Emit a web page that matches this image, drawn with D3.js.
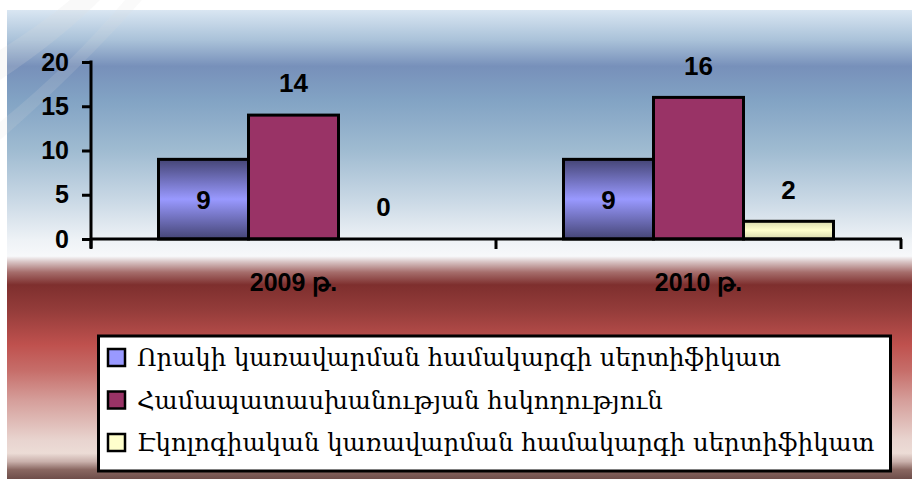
<!DOCTYPE html>
<html>
<head>
<meta charset="utf-8">
<script src="https://cdn.jsdelivr.net/npm/d3@7"></script>
<style>
  body { margin: 0; background: #fff; }
  svg { display: block; }
</style>
</head>
<body>
<svg id="chart"></svg>
<script>
// data
const categories = ["2009 թ.", "2010 թ."];
const seriesNames = [
  "Որակի կառավարման համակարգի սերտիֆիկատ",
  "Համապատասխանության հսկողություն",
  "Էկոլոգիական կառավարման համակարգի սերտիֆիկատ"
];
const values2009 = [9, 14, 0];
const values2010 = [9, 16, 2];
const yTicks = [0, 5, 10, 15, 20];

const seriesColors = ["#9999ff", "#993366", "#ffffcc"];
const gradIds = ["gBlue", null, "gYellow"];

const width = 912, height = 479;
const svg = d3.select("#chart").attr("width", width).attr("height", height);
const defs = svg.append("defs");

// background gradient (blue top, red bottom)
let bgStops = [
  [0, "#d9e6f2"], [0.064, "#aac2d9"], [0.12, "#7790ba"], [0.192, "#82a3c4"],
  [0.299, "#9fbbd1"], [0.405, "#c9d8e5"], [0.49, "#eef2f6"], [0.525, "#f7f8fa"],
  [0.537, "#d8c4c4"], [0.559, "#a66e6c"], [0.586, "#7e2f2e"], [0.64, "#943c3a"],
  [0.714, "#bf514e"], [0.768, "#c66d69"], [0.832, "#d59e9a"], [0.917, "#e8d4cf"],
  [0.945, "#ecdcd6"], [0.963, "#c9b0ab"], [0.98, "#8a6862"], [1, "#6e4e4a"]
];
let bg = defs.append("linearGradient").attr("id", "bg")
  .attr("x1", 0).attr("y1", 0).attr("x2", 0).attr("y2", 1);
bgStops.forEach(s => bg.append("stop").attr("offset", s[0]).attr("stop-color", s[1]));

let gb = defs.append("linearGradient").attr("id", "gBlue")
  .attr("x1", 0).attr("y1", 0).attr("x2", 0).attr("y2", 1);
[[0, "#454575"], [0.5, "#9999ff"], [1, "#454575"]].forEach(s =>
  gb.append("stop").attr("offset", s[0]).attr("stop-color", s[1]));

let gy = defs.append("linearGradient").attr("id", "gYellow")
  .attr("x1", 0).attr("y1", 0).attr("x2", 0).attr("y2", 1);
[[0, "#d8d8ac"], [0.5, "#ffffcc"], [1, "#d8d8ac"]].forEach(s =>
  gy.append("stop").attr("offset", s[0]).attr("stop-color", s[1]));

svg.append("rect").attr("x", 7).attr("y", 10)
  .attr("width", width - 7).attr("height", height - 10)
  .attr("fill", "url(#bg)");

// faint swooshes at top-left
svg.append("path")
  .attr("d", "M70,0 L100,0 Q60,40 0,80 L0,50 Q40,25 70,0 Z")
  .attr("fill", "#dcdcdc").attr("opacity", 0.18);
svg.append("path")
  .attr("d", "M125,0 L142,0 Q80,70 0,140 L0,122 Q70,65 125,0 Z")
  .attr("fill", "#dcdcdc").attr("opacity", 0.15);

// scales
const x0 = d3.scaleBand().domain(categories).range([91, 901]).padding(0);
const bw = x0.bandwidth();
const x1 = d3.scaleBand().domain(seriesNames).range([bw / 6, bw * 5 / 6]);
const y = d3.scaleLinear().domain([0, 20]).range([239, 62]);

const rows = categories.map((c, i) => ({
  cat: c,
  vals: [values2009, values2010][i].map((v, j) => ({ name: seriesNames[j], v: v, j: j }))
}));

// bars
const groups = svg.append("g").selectAll("g").data(rows).join("g")
  .attr("transform", d => `translate(${x0(d.cat)},0)`);

groups.selectAll("rect").data(d => d.vals.filter(e => e.v > 0)).join("rect")
  .attr("x", d => x1(d.name))
  .attr("y", d => y(d.v))
  .attr("width", x1.bandwidth())
  .attr("height", d => y(0) - y(d.v))
  .attr("fill", d => gradIds[d.j] ? `url(#${gradIds[d.j]})` : seriesColors[d.j])
  .attr("stroke", "#000").attr("stroke-width", 3);

// value labels
groups.selectAll("text").data(d => d.vals).join("text")
  .attr("x", d => x1(d.name) + x1.bandwidth() / 2)
  .attr("y", d => d.j === 0 ? (y(d.v) + y(0)) / 2 : y(d.v) - 32)
  .attr("dy", "0.36em")
  .attr("text-anchor", "middle")
  .style("font", "bold 26px 'Liberation Sans', Arial, sans-serif")
  .text(d => d.v);

// y axis
const yAxis = svg.append("g").attr("transform", "translate(91,0)")
  .call(d3.axisLeft(y).tickValues(yTicks).tickSize(9).tickPadding(13));
yAxis.select(".domain").remove();
yAxis.selectAll(".tick line").attr("stroke", "#000").attr("stroke-width", 3);
yAxis.selectAll(".tick text")
  .style("font", "bold 25px 'Liberation Sans', Arial, sans-serif")
  .attr("fill", "#000");
svg.append("line").attr("x1", 91).attr("x2", 91).attr("y1", y(20) - 1.5).attr("y2", 248)
  .attr("stroke", "#000").attr("stroke-width", 3);

// x axis
svg.append("line").attr("x1", 91).attr("x2", 902).attr("y1", y(0)).attr("y2", y(0))
  .attr("stroke", "#000").attr("stroke-width", 3);
const xTickPos = categories.map(c => x0(c)).concat([x0.range()[1]]);
svg.append("g").selectAll("line").data(xTickPos).join("line")
  .attr("x1", d => d).attr("x2", d => d)
  .attr("y1", y(0)).attr("y2", y(0) + 10)
  .attr("stroke", "#000").attr("stroke-width", 3);
svg.append("g").selectAll("text").data(categories).join("text")
  .attr("x", d => x0(d) + bw / 2)
  .attr("y", 291)
  .attr("text-anchor", "middle")
  .style("font", "bold 25px 'Liberation Sans', Arial, sans-serif")
  .text(d => d);

// legend
const lg = svg.append("g");
lg.append("rect").attr("x", 98.5).attr("y", 336).attr("width", 792).attr("height", 135)
  .attr("fill", "#fff").attr("stroke", "#000").attr("stroke-width", 3);
const legendY = d3.scalePoint().domain(seriesNames).range([358, 443]);
const items = lg.selectAll("g").data(seriesNames).join("g")
  .attr("transform", d => `translate(0,${legendY(d)})`);
items.append("rect")
  .attr("x", 108).attr("y", -9).attr("width", 17).attr("height", 17)
  .attr("fill", (d, i) => seriesColors[i])
  .attr("stroke", "#000").attr("stroke-width", 2.5);
items.append("text")
  .attr("x", 137).attr("y", 8)
  .style("font", "24.4px 'DejaVu Serif', serif")
  .attr("fill", "#000")
  .text(d => d);
</script>
</body>
</html>
